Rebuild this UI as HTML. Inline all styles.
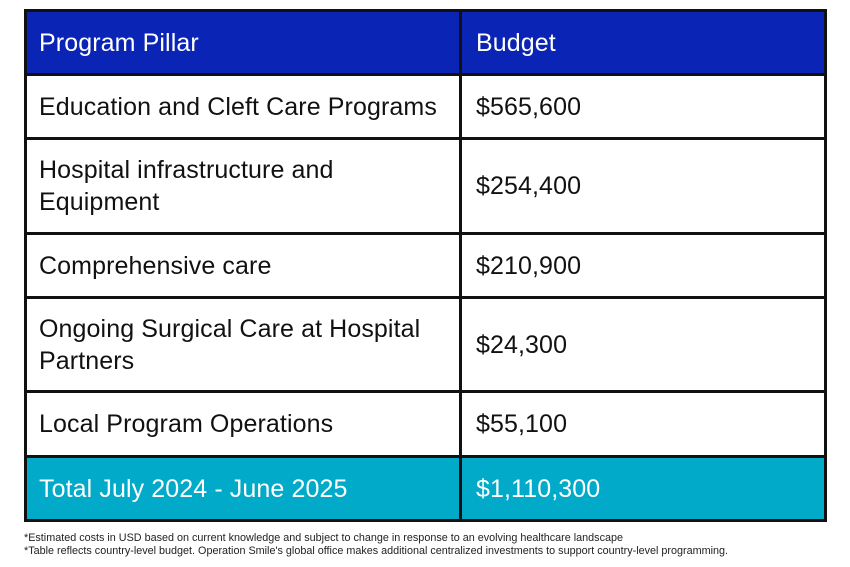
<!DOCTYPE html>
<html><head><style>
body{margin:0;width:850px;height:567px;background:#fff;position:relative;overflow:hidden;font-family:"Liberation Sans",sans-serif}
.r{position:absolute;left:24px;width:803px;box-sizing:border-box;border:3px solid #111;}
.c{position:absolute;display:flex;align-items:center;font-size:25px;color:#111;line-height:32px;letter-spacing:0.1px}
.fn{position:absolute;left:24px;font-size:10.8px;color:#222}
</style></head><body>
<div class="r" style="top:9px;height:513px"></div>
<div style="position:absolute;left:27px;top:12px;width:797px;height:62px;background:#0a24b6"></div>
<div style="position:absolute;left:27px;top:457px;width:797px;height:62px;background:#00aac8"></div>
<div style="position:absolute;left:24px;top:73px;width:803px;height:3px;background:#111"></div>
<div style="position:absolute;left:24px;top:137px;width:803px;height:3px;background:#111"></div>
<div style="position:absolute;left:24px;top:232px;width:803px;height:3px;background:#111"></div>
<div style="position:absolute;left:24px;top:296px;width:803px;height:3px;background:#111"></div>
<div style="position:absolute;left:24px;top:390px;width:803px;height:3px;background:#111"></div>
<div style="position:absolute;left:24px;top:455px;width:803px;height:3px;background:#111"></div>
<div style="position:absolute;left:459px;top:9px;width:3px;height:513px;background:#111"></div>

<div class="c" style="left:39px;top:12px;height:62px;color:#fff">Program Pillar</div>
<div class="c" style="left:476px;top:12px;height:62px;color:#fff">Budget</div>
<div class="c" style="left:39px;top:76px;height:61px">Education and Cleft Care Programs</div>
<div class="c" style="left:476px;top:76px;height:61px">$565,600</div>
<div class="c" style="left:39px;top:140px;height:92px">Hospital infrastructure and<br>Equipment</div>
<div class="c" style="left:476px;top:140px;height:92px">$254,400</div>
<div class="c" style="left:39px;top:235px;height:61px">Comprehensive care</div>
<div class="c" style="left:476px;top:235px;height:61px">$210,900</div>
<div class="c" style="left:39px;top:299px;height:91px">Ongoing Surgical Care at Hospital<br>Partners</div>
<div class="c" style="left:476px;top:299px;height:91px">$24,300</div>
<div class="c" style="left:39px;top:393px;height:62px">Local Program Operations</div>
<div class="c" style="left:476px;top:393px;height:62px">$55,100</div>
<div class="c" style="left:39px;top:458px;height:61px;color:#fff">Total July 2024 - June 2025</div>
<div class="c" style="left:476px;top:458px;height:61px;color:#fff">$1,110,300</div>

<div class="fn" style="top:532px">*Estimated costs in USD based on current knowledge and subject to change in response to an evolving healthcare landscape</div>
<div class="fn" style="top:545px">*Table reflects country-level budget. Operation Smile's global office makes additional centralized investments to support country-level programming.</div>
</body></html>
